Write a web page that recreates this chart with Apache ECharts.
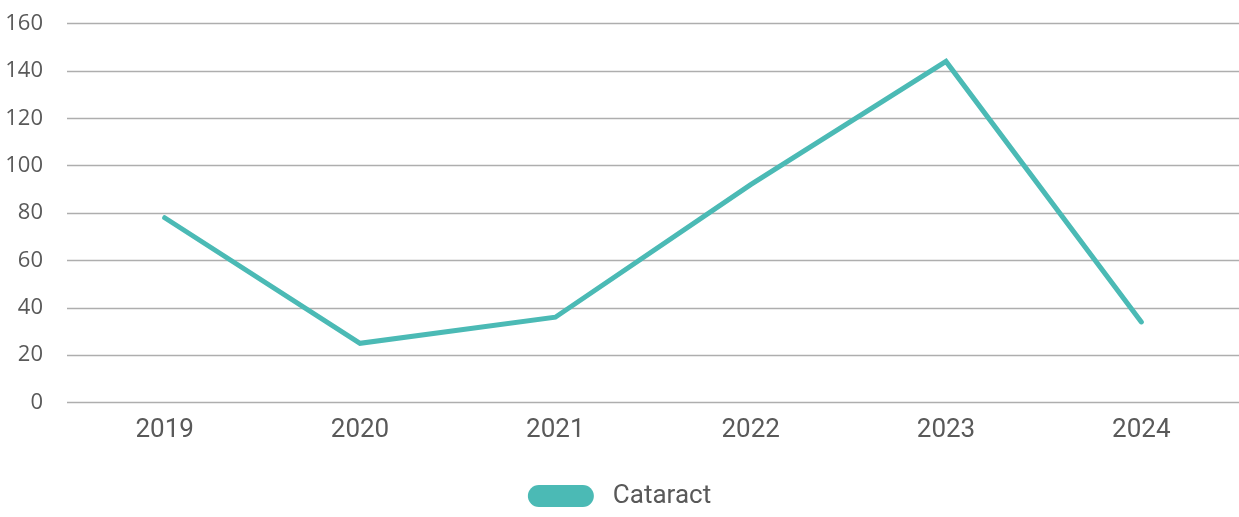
<!DOCTYPE html>
<html>
<head>
<meta charset="utf-8">
<script src="https://cdn.jsdelivr.net/npm/echarts@6/dist/echarts.min.js"></script>
<style>
  html, body { margin: 0; padding: 0; background: #ffffff; }
  #chart { width: 1239px; height: 517px; }
</style>
</head>
<body>
<div id="chart"></div>
<script>
// Yearly counts
const years = ['2019', '2020', '2021', '2022', '2023', '2024'];
const cataract = [78, 25, 36, 92, 144, 34];
const yTicks = { min: 0, max: 160, interval: 20 };

const chart = echarts.init(document.getElementById('chart'), null, { renderer: 'canvas' });

chart.setOption({
  animation: false,
  grid: { left: 67, right: 0, top: 23.5, bottom: 114.5 },
  legend: {
    data: ['Cataract'],
    bottom: 3,
    left: 'center',
    itemWidth: 66,
    itemHeight: 22,
    icon: 'path://M11,0 H55 A11,11 0 0 1 55,22 H11 A11,11 0 0 1 11,0 Z',
    textStyle: {
      fontFamily: 'Roboto',
      fontSize: 26,
      color: '#595959',
      padding: [0, 0, 0, 14]
    }
  },
  xAxis: {
    type: 'category',
    data: years,
    boundaryGap: true,
    axisLine: { show: false },
    axisTick: { show: false },
    axisLabel: {
      fontFamily: 'Roboto',
      fontSize: 26,
      color: '#595959',
      margin: 15
    }
  },
  yAxis: {
    type: 'value',
    min: yTicks.min,
    max: yTicks.max,
    interval: yTicks.interval,
    axisLine: { show: false },
    axisTick: { show: false },
    axisLabel: {
      fontFamily: 'Open Sans',
      fontSize: 22,
      color: '#595959',
      margin: 24
    },
    splitLine: { lineStyle: { color: '#aeaeae', width: 1.4 } }
  },
  series: [{
    name: 'Cataract',
    type: 'line',
    data: cataract,
    showSymbol: false,
    symbol: 'none',
    color: '#4bbab5',
    lineStyle: { color: '#4bbab5', width: 5, cap: 'round', join: 'miter' }
  }]
});
</script>
</body>
</html>
